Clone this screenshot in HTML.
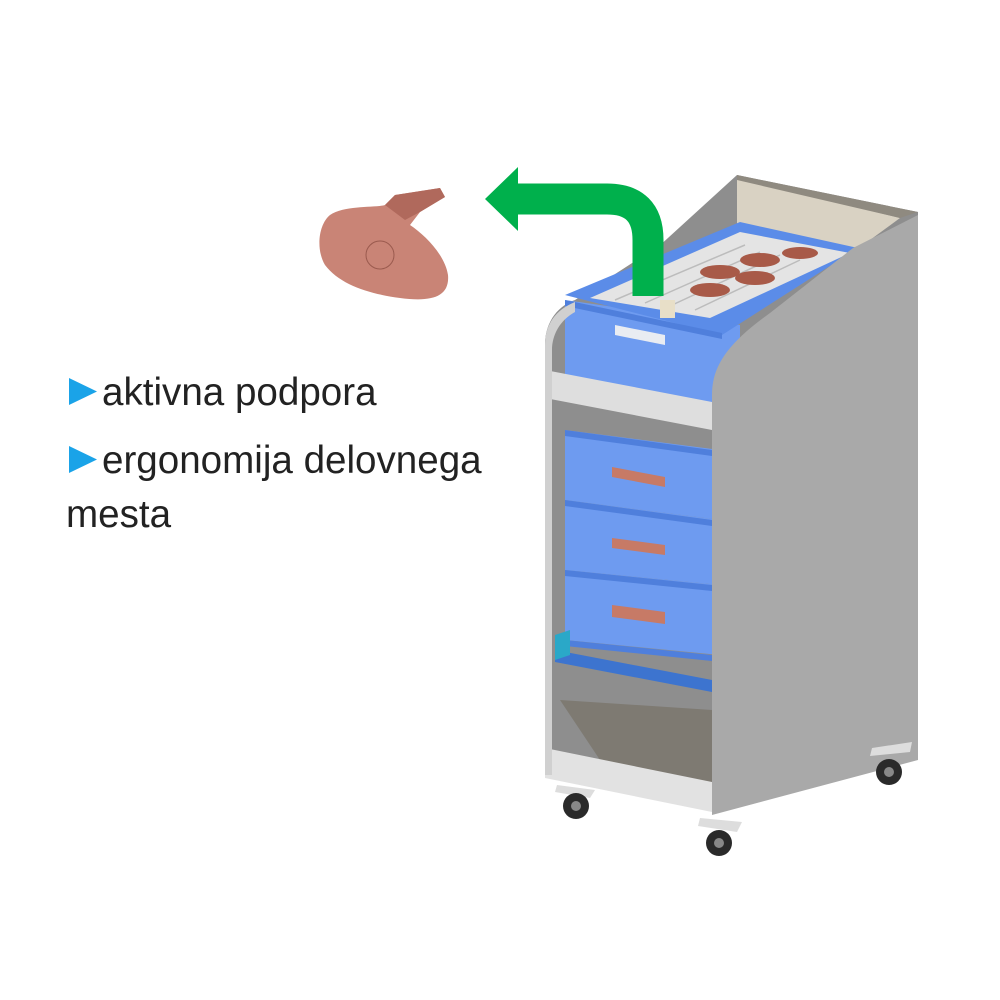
<!DOCTYPE html>
<html><head><meta charset="utf-8"><style>
html,body{margin:0;padding:0;background:#fff;}
svg{display:block}
</style></head><body>
<svg width="1000" height="1000" viewBox="0 0 1000 1000" xmlns="http://www.w3.org/2000/svg">
<!-- text -->
<polygon points="69,378 97,391.5 69,405" fill="#1aa3e8"/>
<text x="102" y="405" font-family="Liberation Sans, sans-serif" font-size="38.6" fill="#222">aktivna podpora</text>
<polygon points="69,446 97,459.5 69,473" fill="#1aa3e8"/>
<text x="102" y="473" font-family="Liberation Sans, sans-serif" font-size="38.6" fill="#222">ergonomija delovnega</text>
<text x="66" y="527" font-family="Liberation Sans, sans-serif" font-size="38.6" fill="#222">mesta</text>

<!-- part -->
<path d="M330,215 C345,205 375,208 385,205 L395,195 L440,188 L445,197 L420,212 L410,225 C425,235 445,255 448,275 C450,298 430,302 400,298 C370,294 340,285 325,265 C316,250 318,225 330,215 Z" fill="#c98476"/>
<path d="M385,205 L395,195 L440,188 L445,197 L420,212 L405,220 Z" fill="#b0695c"/>
<circle cx="380" cy="255" r="14" fill="none" stroke="#9a5a4e" stroke-width="1"/>

<!-- interior behind -->
<polygon points="737,175 918,212 918,240 760,345 712,335 600,300" fill="#8e8e8e"/>
<!-- back beige panel -->
<polygon points="737,178 900,218 870,240 855,248 737,225" fill="#d9d2c3"/>
<polygon points="737,175 918,212 900,218 737,180" fill="#8f8a80"/>
<!-- interior dark -->
<path d="M545,345 C545,320 560,305 575,300 L737,195 L737,180 L712,400 L712,810 L545,775 Z" fill="#8e8e8e"/>
<polygon points="560,700 712,710 712,800 600,760" fill="#7e7a72"/>
<!-- boxes -->
<polygon points="565,300 740,325 740,415 565,380" fill="#6e9bf0"/>
<!-- top tray blue -->
<polygon points="565,295 740,222 858,248 722,335" fill="#5b8ce8"/>
<polygon points="590,298 740,232 850,253 710,318" fill="#e4e4e4"/>
<g stroke="#bcbcbc" stroke-width="1.5">
<line x1="615" y1="300" x2="745" y2="245"/><line x1="645" y1="303" x2="760" y2="252"/>
<line x1="670" y1="306" x2="780" y2="255"/><line x1="695" y1="310" x2="800" y2="260"/>
</g>
<g fill="#a85a48">
<ellipse cx="720" cy="272" rx="20" ry="7"/><ellipse cx="760" cy="260" rx="20" ry="7"/>
<ellipse cx="800" cy="253" rx="18" ry="6"/><ellipse cx="710" cy="290" rx="20" ry="7"/>
<ellipse cx="755" cy="278" rx="20" ry="7"/>
</g>
<rect x="660" y="300" width="15" height="18" fill="#e8dfc8"/>
<polygon points="565,300 722,333 722,339 565,306" fill="#4f7fdc"/>
<polygon points="615,325 665,335 665,345 615,335" fill="#e9ecf2"/>
<polygon points="565,430 720,450 720,520 565,500" fill="#6e9bf0"/>
<polygon points="565,500 720,520 720,585 565,570" fill="#6e9bf0"/>
<polygon points="565,570 720,585 720,655 565,640" fill="#6e9bf0"/>
<g fill="#4f7fdc">
<polygon points="565,430 712,450 712,456 565,436"/>
<polygon points="565,500 712,520 712,526 565,506"/>
<polygon points="565,570 712,585 712,591 565,576"/>
<polygon points="565,640 712,655 712,661 565,646"/>
</g>
<g fill="#c77a66">
<polygon points="612,467 665,477 665,487 612,477"/>
<polygon points="612,538 665,545 665,555 612,548"/>
<polygon points="612,605 665,612 665,624 612,617"/>
</g>
<polygon points="555,650 712,680 712,692 555,662" fill="#3d74cf"/>
<polygon points="555,635 570,630 570,655 555,660" fill="#2aa8c8"/>
<!-- crossbar -->
<polygon points="545,370 712,402 712,430 545,398" fill="#dedede"/>
<!-- bottom bar -->
<polygon points="545,748 712,782 712,812 545,778" fill="#e2e2e2"/>
<!-- left panel edge -->
<path d="M545,345 C545,325 555,310 575,302 L575,312 C560,320 552,335 552,350 L552,775 L545,775 Z" fill="#d0d0d0"/>
<!-- side panel -->
<path d="M712,815 L712,395 C712,368 725,345 770,313 L853,248 L918,215 L918,760 Z" fill="#a9a9a9"/>
<!-- casters -->
<g>
<polygon points="557,785 595,790 590,798 555,792" fill="#ddd"/>
<circle cx="576" cy="806" r="13" fill="#2a2a2a"/><circle cx="576" cy="806" r="5" fill="#888"/>
<polygon points="700,818 742,822 737,832 698,826" fill="#ddd"/>
<circle cx="719" cy="843" r="13" fill="#2a2a2a"/><circle cx="719" cy="843" r="5" fill="#888"/>
<polygon points="872,748 912,742 910,752 870,756" fill="#ddd"/>
<circle cx="889" cy="772" r="13" fill="#2a2a2a"/><circle cx="889" cy="772" r="5" fill="#888"/>
</g>
<!-- green arrow -->
<path d="M648,296 L648,240 Q648,199 607,199 L515,199" fill="none" stroke="#00b04c" stroke-width="31"/>
<polygon points="485,199 518,167 518,231" fill="#00b04c"/>
</svg>
</body></html>
